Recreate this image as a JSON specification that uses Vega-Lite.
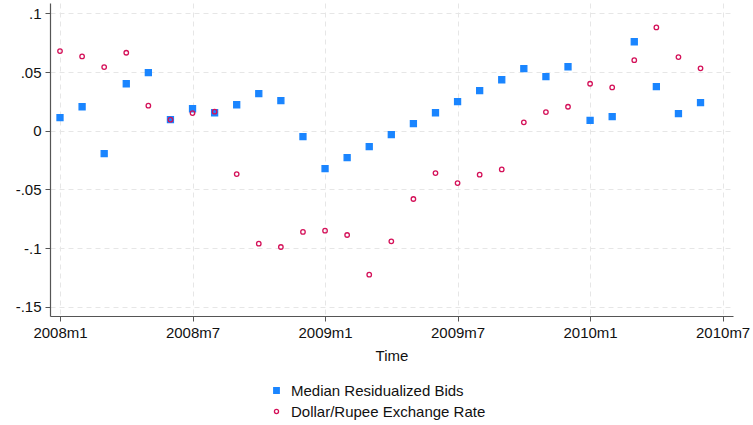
{
  "$schema": "https://vega.github.io/schema/vega-lite/v6.json",
  "width": 683,
  "height": 313,
  "autosize": {"type": "none"},
  "padding": {"left": 50, "top": 3, "right": 20, "bottom": 109},
  "background": "white",
  "config": {
    "view": {"stroke": null},
    "font": "Liberation Sans",
    "axis": {
      "labelFont": "Liberation Sans",
      "titleFont": "Liberation Sans",
      "labelFontSize": 15,
      "titleFontSize": 15,
      "titleFontWeight": "normal",
      "labelColor": "#111",
      "titleColor": "#111",
      "domainColor": "#555",
      "tickColor": "#555",
      "domainWidth": 1.2,
      "tickWidth": 1,
      "tickSize": 5,
      "labelPadding": 4,
      "gridColor": "#e6e6e6",
      "gridDash": [5, 4],
      "gridWidth": 1
    },
    "legend": {
      "labelFont": "Liberation Sans",
      "labelFontSize": 15,
      "labelColor": "#111",
      "labelLimit": 0
    }
  },
  "data": {
    "values": [
      {"t": 0, "month": "2008m1", "series": "Median Residualized Bids", "value": 0.0111},
      {"t": 1, "month": "2008m2", "series": "Median Residualized Bids", "value": 0.0204},
      {"t": 2, "month": "2008m3", "series": "Median Residualized Bids", "value": -0.0196},
      {"t": 3, "month": "2008m4", "series": "Median Residualized Bids", "value": 0.0400},
      {"t": 4, "month": "2008m5", "series": "Median Residualized Bids", "value": 0.0494},
      {"t": 5, "month": "2008m6", "series": "Median Residualized Bids", "value": 0.0094},
      {"t": 6, "month": "2008m7", "series": "Median Residualized Bids", "value": 0.0187},
      {"t": 7, "month": "2008m8", "series": "Median Residualized Bids", "value": 0.0153},
      {"t": 8, "month": "2008m9", "series": "Median Residualized Bids", "value": 0.0221},
      {"t": 9, "month": "2008m10", "series": "Median Residualized Bids", "value": 0.0315},
      {"t": 10, "month": "2008m11", "series": "Median Residualized Bids", "value": 0.0256},
      {"t": 11, "month": "2008m12", "series": "Median Residualized Bids", "value": -0.0051},
      {"t": 12, "month": "2009m1", "series": "Median Residualized Bids", "value": -0.0324},
      {"t": 13, "month": "2009m2", "series": "Median Residualized Bids", "value": -0.0230},
      {"t": 14, "month": "2009m3", "series": "Median Residualized Bids", "value": -0.0136},
      {"t": 15, "month": "2009m4", "series": "Median Residualized Bids", "value": -0.0034},
      {"t": 16, "month": "2009m5", "series": "Median Residualized Bids", "value": 0.0060},
      {"t": 17, "month": "2009m6", "series": "Median Residualized Bids", "value": 0.0153},
      {"t": 18, "month": "2009m7", "series": "Median Residualized Bids", "value": 0.0247},
      {"t": 19, "month": "2009m8", "series": "Median Residualized Bids", "value": 0.0341},
      {"t": 20, "month": "2009m9", "series": "Median Residualized Bids", "value": 0.0434},
      {"t": 21, "month": "2009m10", "series": "Median Residualized Bids", "value": 0.0528},
      {"t": 22, "month": "2009m11", "series": "Median Residualized Bids", "value": 0.0460},
      {"t": 23, "month": "2009m12", "series": "Median Residualized Bids", "value": 0.0545},
      {"t": 24, "month": "2010m1", "series": "Median Residualized Bids", "value": 0.0088},
      {"t": 25, "month": "2010m2", "series": "Median Residualized Bids", "value": 0.0119},
      {"t": 26, "month": "2010m3", "series": "Median Residualized Bids", "value": 0.0758},
      {"t": 27, "month": "2010m4", "series": "Median Residualized Bids", "value": 0.0375},
      {"t": 28, "month": "2010m5", "series": "Median Residualized Bids", "value": 0.0145},
      {"t": 29, "month": "2010m6", "series": "Median Residualized Bids", "value": 0.0239},
      {"t": 0, "month": "2008m1", "series": "Dollar/Rupee Exchange Rate", "value": 0.0678},
      {"t": 1, "month": "2008m2", "series": "Dollar/Rupee Exchange Rate", "value": 0.0633},
      {"t": 2, "month": "2008m3", "series": "Dollar/Rupee Exchange Rate", "value": 0.0542},
      {"t": 3, "month": "2008m4", "series": "Dollar/Rupee Exchange Rate", "value": 0.0664},
      {"t": 4, "month": "2008m5", "series": "Dollar/Rupee Exchange Rate", "value": 0.0213},
      {"t": 5, "month": "2008m6", "series": "Dollar/Rupee Exchange Rate", "value": 0.0094},
      {"t": 6, "month": "2008m7", "series": "Dollar/Rupee Exchange Rate", "value": 0.0150},
      {"t": 7, "month": "2008m8", "series": "Dollar/Rupee Exchange Rate", "value": 0.0162},
      {"t": 8, "month": "2008m9", "series": "Dollar/Rupee Exchange Rate", "value": -0.0370},
      {"t": 9, "month": "2008m10", "series": "Dollar/Rupee Exchange Rate", "value": -0.0963},
      {"t": 10, "month": "2008m11", "series": "Dollar/Rupee Exchange Rate", "value": -0.0991},
      {"t": 11, "month": "2008m12", "series": "Dollar/Rupee Exchange Rate", "value": -0.0863},
      {"t": 12, "month": "2009m1", "series": "Dollar/Rupee Exchange Rate", "value": -0.0852},
      {"t": 13, "month": "2009m2", "series": "Dollar/Rupee Exchange Rate", "value": -0.0889},
      {"t": 14, "month": "2009m3", "series": "Dollar/Rupee Exchange Rate", "value": -0.1227},
      {"t": 15, "month": "2009m4", "series": "Dollar/Rupee Exchange Rate", "value": -0.0943},
      {"t": 16, "month": "2009m5", "series": "Dollar/Rupee Exchange Rate", "value": -0.0582},
      {"t": 17, "month": "2009m6", "series": "Dollar/Rupee Exchange Rate", "value": -0.0361},
      {"t": 18, "month": "2009m7", "series": "Dollar/Rupee Exchange Rate", "value": -0.0446},
      {"t": 19, "month": "2009m8", "series": "Dollar/Rupee Exchange Rate", "value": -0.0375},
      {"t": 20, "month": "2009m9", "series": "Dollar/Rupee Exchange Rate", "value": -0.0330},
      {"t": 21, "month": "2009m10", "series": "Dollar/Rupee Exchange Rate", "value": 0.0071},
      {"t": 22, "month": "2009m11", "series": "Dollar/Rupee Exchange Rate", "value": 0.0159},
      {"t": 23, "month": "2009m12", "series": "Dollar/Rupee Exchange Rate", "value": 0.0204},
      {"t": 24, "month": "2010m1", "series": "Dollar/Rupee Exchange Rate", "value": 0.0400},
      {"t": 25, "month": "2010m2", "series": "Dollar/Rupee Exchange Rate", "value": 0.0369},
      {"t": 26, "month": "2010m3", "series": "Dollar/Rupee Exchange Rate", "value": 0.0601},
      {"t": 27, "month": "2010m4", "series": "Dollar/Rupee Exchange Rate", "value": 0.0880},
      {"t": 28, "month": "2010m5", "series": "Dollar/Rupee Exchange Rate", "value": 0.0627},
      {"t": 29, "month": "2010m6", "series": "Dollar/Rupee Exchange Rate", "value": 0.0531}
    ]
  },
  "mark": {"type": "point", "strokeWidth": 1.3, "opacity": 1, "size": 36},
  "encoding": {
    "x": {
      "field": "t",
      "type": "quantitative",
      "scale": {"domain": [-0.453, 30.47], "nice": false, "zero": false},
      "axis": {
        "values": [0, 6, 12, 18, 24, 30],
        "labelExpr": "(2008 + floor(datum.value / 12)) + 'm' + (datum.value % 12 + 1)",
        "title": "Time",
        "titlePadding": 8,
        "labelFlush": false
      }
    },
    "y": {
      "field": "value",
      "type": "quantitative",
      "scale": {"domain": [-0.1579, 0.1088], "nice": false, "zero": false},
      "axis": {
        "values": [-0.15, -0.1, -0.05, 0, 0.05, 0.1],
        "labelExpr": "replace(toString(datum.value), '0.', '.')",
        "title": null
      }
    },
    "shape": {
      "field": "series",
      "type": "nominal",
      "scale": {"domain": ["Median Residualized Bids", "Dollar/Rupee Exchange Rate"], "range": ["square", "M0.75,0A0.75,0.75,0,1,1,-0.75,0A0.75,0.75,0,1,1,0.75,0Z"]},
      "legend": {
        "title": null,
        "orient": "none",
        "legendX": 219,
        "legendY": 380,
        "direction": "vertical",
        "padding": 0,
        "symbolSize": 30,
        "symbolStrokeWidth": 1.3,
        "labelOffset": 7,
        "rowPadding": 5,
        "labelLimit": 0
      }
    },
    "fill": {
      "field": "series",
      "type": "nominal",
      "scale": {"domain": ["Median Residualized Bids", "Dollar/Rupee Exchange Rate"], "range": ["#1a85ff", "transparent"]},
      "legend": {
        "title": null,
        "orient": "none",
        "legendX": 219,
        "legendY": 380,
        "direction": "vertical",
        "padding": 0,
        "symbolSize": 30,
        "symbolStrokeWidth": 1.3,
        "labelOffset": 7,
        "rowPadding": 5,
        "labelLimit": 0
      }
    },
    "stroke": {
      "field": "series",
      "type": "nominal",
      "scale": {"domain": ["Median Residualized Bids", "Dollar/Rupee Exchange Rate"], "range": ["#1a85ff", "#d41159"]},
      "legend": {
        "title": null,
        "orient": "none",
        "legendX": 219,
        "legendY": 380,
        "direction": "vertical",
        "padding": 0,
        "symbolSize": 30,
        "symbolStrokeWidth": 1.3,
        "labelOffset": 7,
        "rowPadding": 5,
        "labelLimit": 0
      }
    }
  }
}
